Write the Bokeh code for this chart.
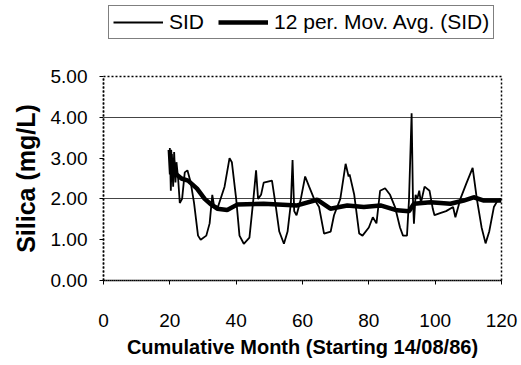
from bokeh.plotting import figure
from bokeh.layouts import column
from bokeh.embed import file_html
from bokeh.resources import INLINE
from bokeh.models import FixedTicker, Legend, LegendItem, Range1d, NumeralTickFormatter

# ---- data ----
sid_month = [20.0, 20.3, 20.6, 21.0, 21.3, 21.7, 22.0, 22.5, 23.0, 23.7, 24.5, 25.3, 26.3, 27.3,
             28.5, 29.3, 31.0, 32.0, 32.8, 33.3, 34.5, 36.5, 38.0, 38.7, 40.0, 41.0, 42.3, 44.0,
             45.2, 46.0, 46.6, 47.5, 48.3, 50.8, 51.8, 53.0, 54.4, 55.5, 56.5, 57.0, 57.5, 58.2,
             59.5, 60.8, 62.0, 63.5, 65.0, 66.5, 68.5, 69.5, 71.4, 73.0, 73.9, 74.2, 75.6, 77.1,
             78.1, 80.0, 81.2, 82.3, 83.4, 84.9, 86.4, 87.9, 89.4, 90.3, 91.5, 92.1, 92.9, 93.3,
             93.6, 94.1, 94.6, 95.2, 95.7, 96.8, 98.3, 99.3, 99.8, 101.5, 103.3, 105.4, 106.1,
             107.6, 109.5, 111.3, 112.6, 114.0, 115.2, 116.3, 117.7, 118.9, 120.0]
sid_value = [3.25, 2.20, 3.10, 2.30, 3.15, 2.40, 2.90, 2.50, 1.90, 2.00, 2.65, 2.70, 2.40, 1.90,
             1.10, 1.00, 1.10, 1.40, 2.10, 1.85, 1.80, 2.30, 3.00, 2.90, 2.00, 1.10, 0.90, 1.05,
             2.00, 2.70, 2.00, 2.10, 2.40, 2.45, 1.90, 1.20, 0.90, 1.20, 1.90, 2.95, 1.70, 1.60,
             2.00, 2.55, 2.30, 2.00, 1.80, 1.15, 1.20, 1.60, 2.00, 2.86, 2.55, 2.60, 2.10, 1.15,
             1.10, 1.30, 1.55, 1.40, 2.20, 2.26, 2.10, 1.80, 1.30, 1.10, 1.10, 1.96, 4.10, 2.00,
             1.39, 2.10, 2.00, 2.20, 1.90, 2.30, 2.20, 1.75, 1.60, 1.65, 1.70, 1.80, 1.55,
             2.00, 2.40, 2.76, 1.98, 1.30, 0.91, 1.20, 1.80, 1.97, 2.00]

ma_month = [20.0, 20.4, 20.8, 21.3, 22.0, 23.5, 25.5, 28.2, 30.5, 32.2, 34.3, 37.3, 40.3, 48.3,
            58.4, 64.4, 68.4, 73.5, 78.5, 83.5, 88.5, 92.1, 93.6, 98.6, 104.6, 108.6, 111.6,
            114.7, 120.0]
ma_value = [3.20, 2.60, 3.00, 2.70, 2.60, 2.50, 2.45, 2.25, 2.00, 1.88, 1.76, 1.73, 1.86, 1.88,
            1.84, 1.98, 1.76, 1.84, 1.80, 1.84, 1.72, 1.70, 1.88, 1.92, 1.88, 1.96, 2.04,
            1.96, 1.96]

series_labels = ["SID", "12 per. Mov. Avg. (SID)"]
x_ticks = [0, 20, 40, 60, 80, 100, 120]
y_ticks = [0, 1, 2, 3, 4, 5]
grid_lines = [2, 4]

FONT = "Liberation Sans"
SID_W = 1.8
MA_W = 4.5

# ---- legend strip (top); its frame is aligned with the main frame by the column ----
top = figure(width=521, height=40, output_backend="svg", toolbar_location=None,
             x_axis_type=None, y_axis_type=None, x_range=Range1d(0, 1), y_range=Range1d(100, 101),
             min_border_left=0, min_border_right=0, min_border_top=0, min_border_bottom=0)
top.outline_line_color = None
top.xgrid.visible = False
top.ygrid.visible = False
top.border_fill_color = "white"
# same series drawn out of view, only so that the legend has its line samples
l_sid = top.line(sid_month, sid_value, line_color="black", line_width=SID_W)
l_ma = top.line(ma_month, ma_value, line_color="black", line_width=MA_W)
legend = Legend(items=[LegendItem(label=series_labels[0], renderers=[l_sid]),
                       LegendItem(label=series_labels[1], renderers=[l_ma])],
                orientation="horizontal", location=(5, 1))
legend.label_text_font = FONT
legend.label_text_font_size = "21px"
legend.label_text_color = "black"
legend.border_line_color = "black"
legend.border_line_width = 1
legend.background_fill_color = "white"
legend.background_fill_alpha = 1
legend.glyph_width = 50
legend.glyph_height = 20
legend.label_height = 20
legend.label_standoff = 6
legend.spacing = 14
legend.padding = 4
legend.margin = 0
top.add_layout(legend, "center")

# ---- main chart ----
p = figure(width=521, height=325, output_backend="svg", toolbar_location=None,
           x_range=Range1d(0, 120), y_range=Range1d(0, 5),
           min_border_left=103, min_border_right=20, min_border_top=36, min_border_bottom=85)

p.background_fill_color = "white"
p.border_fill_color = "white"
p.outline_line_color = "black"
p.outline_line_dash = "2 2"
p.outline_line_width = 1.5

p.xgrid.visible = False
p.ygrid.ticker = FixedTicker(ticks=grid_lines)
p.ygrid.grid_line_color = "#444444"
p.ygrid.grid_line_width = 1

for ax in (p.xaxis[0], p.yaxis[0]):
    ax.axis_line_color = "black"
    ax.axis_line_dash = "2 2"
    ax.axis_line_width = 1.5
    ax.major_tick_line_color = "black"
    ax.major_tick_in = 0
    ax.major_tick_out = 4
    ax.minor_tick_line_color = None
    ax.major_label_text_font = FONT
    ax.major_label_text_font_size = "19px"
    ax.major_label_text_color = "black"
    ax.axis_label_text_font = FONT
    ax.axis_label_text_font_style = "bold"
    ax.axis_label_text_color = "black"

p.xaxis.ticker = FixedTicker(ticks=x_ticks)
p.yaxis.ticker = FixedTicker(ticks=y_ticks)
p.yaxis.formatter = NumeralTickFormatter(format="0.00")

p.xaxis.major_label_standoff = 29
p.xaxis.axis_label = "Cumulative Month (Starting 14/08/86)"
p.xaxis.axis_label_text_font_size = "20px"
p.xaxis.axis_label_standoff = 6

p.yaxis.major_label_standoff = 12
p.yaxis.axis_label = "Silica (mg/L)"
p.yaxis.axis_label_text_font_size = "25px"
p.yaxis.axis_label_standoff = 8

p.line(sid_month, sid_value, line_color="black", line_width=SID_W)
p.line(ma_month, ma_value, line_color="black", line_width=MA_W)

layout = column(top, p, spacing=0)
open("out.html", "w").write(file_html(layout, INLINE))
